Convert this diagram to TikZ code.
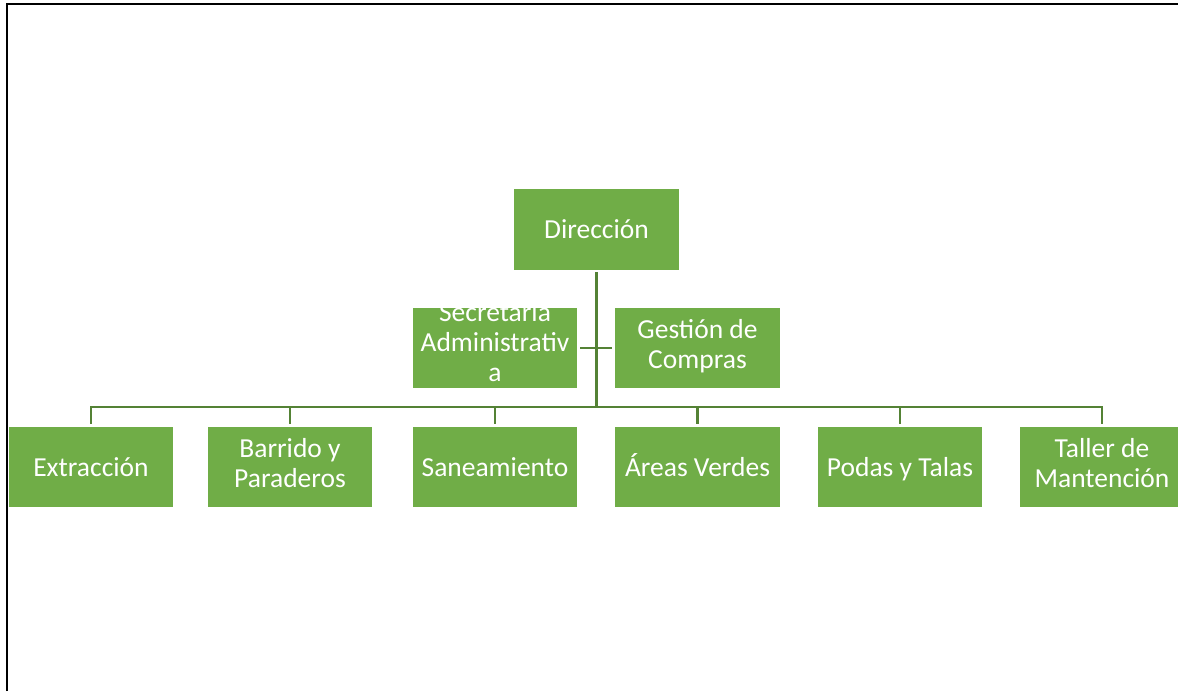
\documentclass[tikz,border=0pt]{standalone}
\usepackage{fontspec}
\setmainfont{Carlito}
\definecolor{boxgreen}{HTML}{70AD47}
\definecolor{linegreen}{HTML}{548235}
\newcommand{\boxstrut}{\rule[-9pt]{0pt}{36pt}}
\begin{document}
\begin{tikzpicture}[x=1pt,y=-1pt,
  box/.style={draw=none, fill=boxgreen, text=white, minimum width=164pt,
    minimum height=80pt, inner sep=0pt, align=center,
    font=\fontsize{27.5}{30}\selectfont,
    execute at begin node=\boxstrut, execute at end node=\boxstrut},
  boxtext/.style={text=white, inner sep=0pt, align=center,
    font=\fontsize{27.5}{30}\selectfont,
    execute at begin node=\boxstrut, execute at end node=\boxstrut},
  conn/.style={draw=linegreen, line width=2.8pt},
  frame/.style={draw=black, line width=2pt}]
\useasboundingbox (0,0) rectangle (1178,691);
\fill[white] (0,0) rectangle (1178,691);
% page frame (top and left edges)
\coordinate (fbl) at (7,691);
\coordinate (ftl) at (7,3.5);
\coordinate (ftr) at (1178,3.5);
\draw[frame] (fbl) -- (ftl) -- (ftr);
% nodes
\node[box, minimum width=165pt, minimum height=81pt] (dir) at (596.5,229.5) {Dirección};
\node[box] (sec) at (495,348) {};
\begin{scope}
  \clip (sec.south west) rectangle (sec.north east);
  \node[boxtext] (sectext) at (495,347) {Secretaria\\Administrativ\\a};
\end{scope}
\node[box, minimum width=165pt] (ges) at (697.5,348) {Gestión de\\Compras};
\node[box] (c1) at (91,467) {Extracción};
\node[box] (c2) at (290,467) {Barrido y\\Paraderos};
\node[box] (c3) at (495,467) {Saneamiento};
\node[box, minimum width=165pt] (c4) at (697.5,467) {Áreas Verdes};
\node[box] (c5) at (900,467) {Podas y Talas};
\node[box] (c6) at (1102,467) {Taller de\\Mantención};
% connectors
\coordinate (bus) at (596.5,407);
\draw[conn, shorten <=2pt] (dir.south) -- (bus);
\foreach \c in {c1,c2,c3,c4,c5,c6}{
  \draw[conn, shorten >=3pt] (bus) -| (\c.north);
}
\draw[conn, shorten <=3pt, shorten >=3pt] (sec.east) -- (ges.west);
\end{tikzpicture}
\end{document}
